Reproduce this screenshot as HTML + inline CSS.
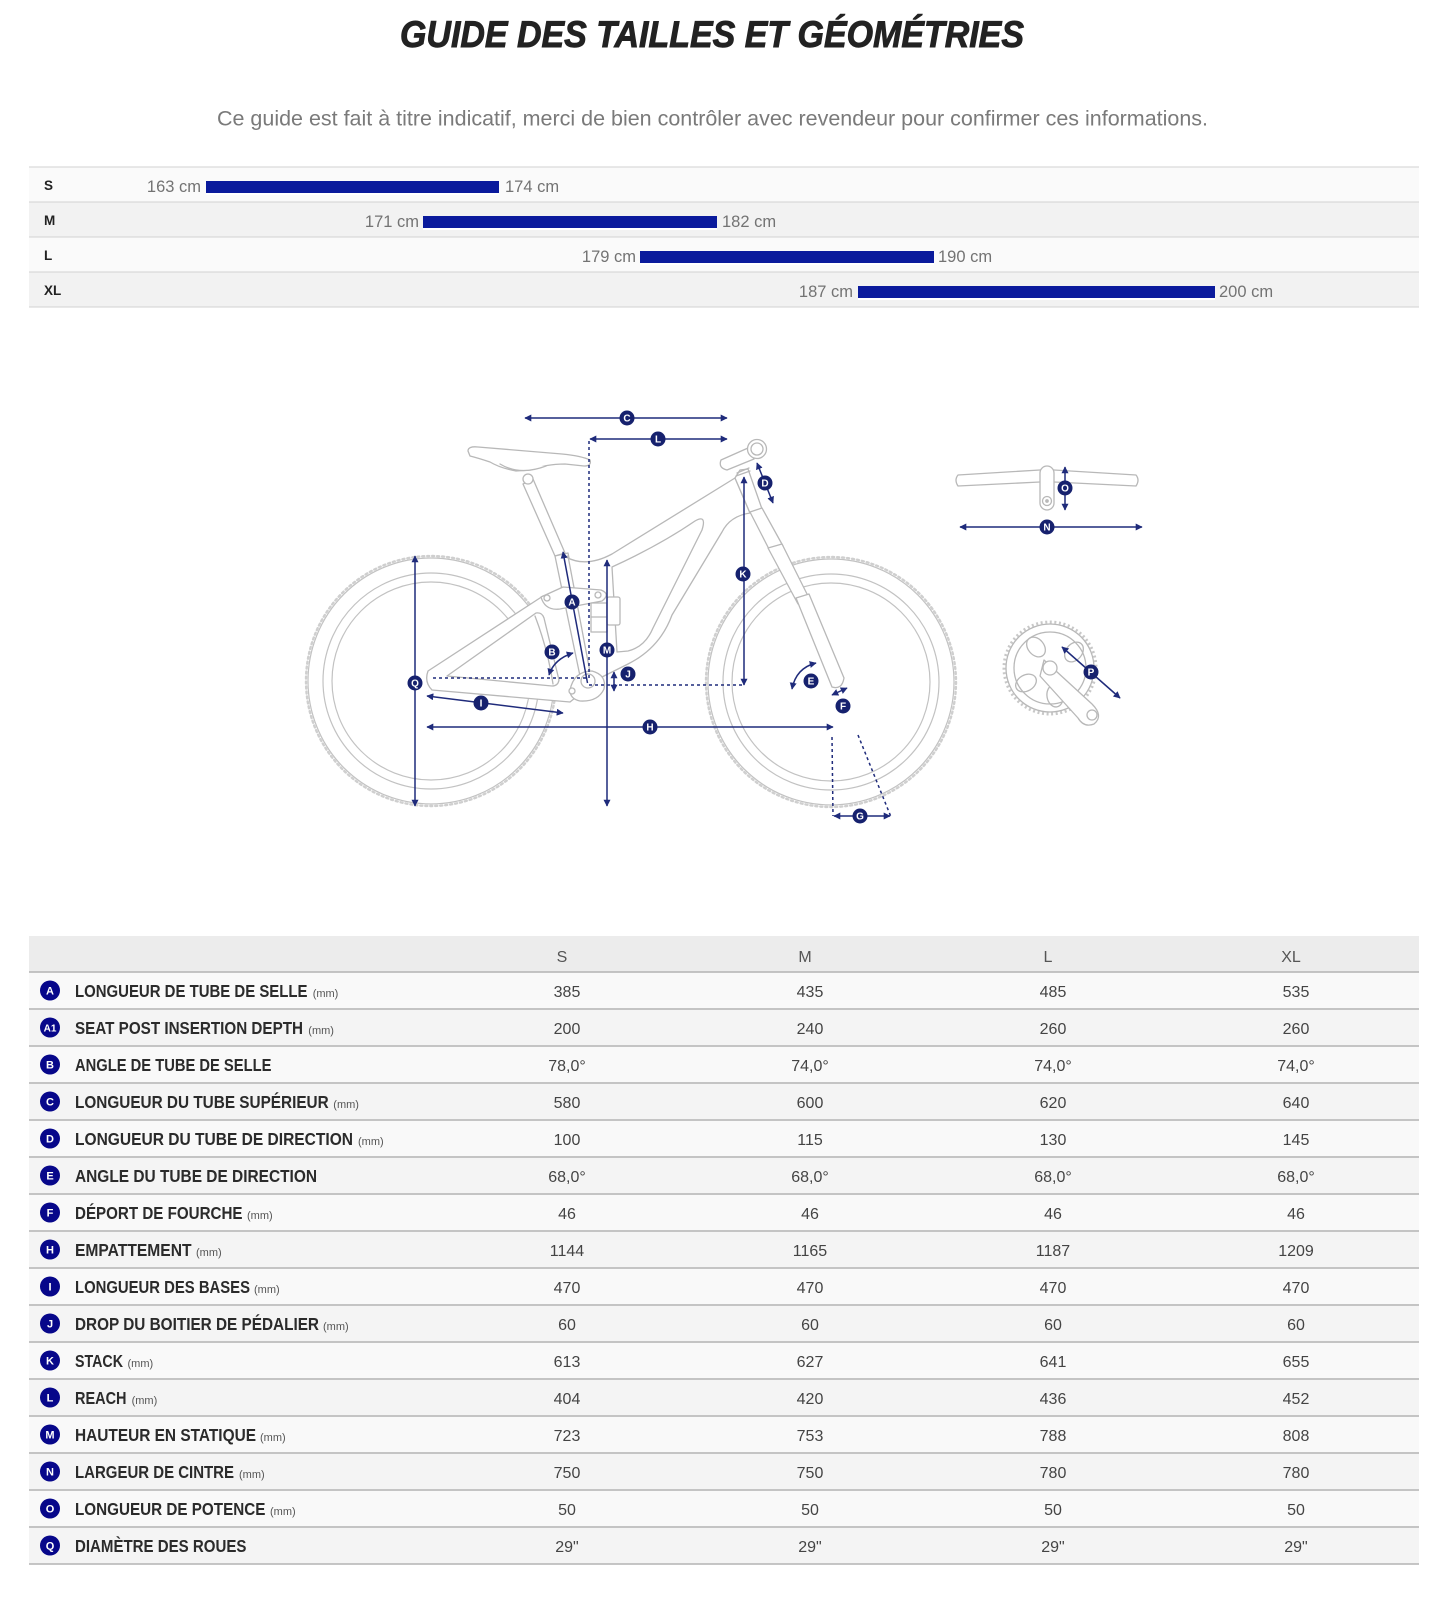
<!DOCTYPE html>
<html>
<head>
<meta charset="utf-8">
<style>
  html,body{margin:0;padding:0;background:#fff;}
  body{width:1450px;height:1600px;overflow:hidden;}
  svg{display:block;}
  text{font-family:"Liberation Sans", Arial, sans-serif;}
</style>
</head>
<body>
<svg width="1450" height="1600" viewBox="0 0 1450 1600" xmlns="http://www.w3.org/2000/svg">
  <defs>
    <marker id="ah" viewBox="0 0 10 10" refX="9" refY="5" markerWidth="7" markerHeight="7" orient="auto-start-reverse" markerUnits="userSpaceOnUse">
      <path d="M0,0 L10,5 L0,10 Z" fill="#1f2b7b"/>
    </marker>
  </defs>

  <!-- Title -->
  <text x="400" y="47" font-size="37" font-weight="bold" font-style="italic" fill="#222" stroke="#222" stroke-width="0.9" textLength="624" lengthAdjust="spacingAndGlyphs">GUIDE DES TAILLES ET GÉOMÉTRIES</text>
  <!-- Subtitle -->
  <text x="217" y="125.5" font-size="21" fill="#7a7a7a" textLength="991" lengthAdjust="spacingAndGlyphs">Ce guide est fait à titre indicatif, merci de bien contrôler avec revendeur pour confirmer ces informations.</text>

  <!-- Size chart -->
  <rect x="29" y="167" width="1390" height="35" fill="#fafafa"/>
  <rect x="29" y="202" width="1390" height="35" fill="#f2f2f2"/>
  <rect x="29" y="237" width="1390" height="35" fill="#fafafa"/>
  <rect x="29" y="272" width="1390" height="35" fill="#f2f2f2"/>
  <g stroke="#d9d9d9" stroke-width="1.2">
    <line x1="29" y1="167" x2="1419" y2="167"/>
    <line x1="29" y1="202" x2="1419" y2="202"/>
    <line x1="29" y1="237" x2="1419" y2="237"/>
    <line x1="29" y1="272" x2="1419" y2="272"/>
    <line x1="29" y1="307" x2="1419" y2="307"/>
  </g>
  <g font-size="13.5" font-weight="bold" fill="#222">
    <text x="44" y="190">S</text>
    <text x="44" y="225">M</text>
    <text x="44" y="260">L</text>
    <text x="44" y="295">XL</text>
  </g>
  <g fill="#ffffff">
    <rect x="206" y="193" width="293" height="2"/>
    <rect x="423" y="228" width="294" height="2"/>
    <rect x="640" y="263" width="294" height="2"/>
    <rect x="858" y="298" width="357" height="2"/>
  </g>
  <g fill="#0a1a9c">
    <rect x="206" y="181" width="293" height="12"/>
    <rect x="423" y="216" width="294" height="12"/>
    <rect x="640" y="251" width="294" height="12"/>
    <rect x="858" y="286" width="357" height="12"/>
  </g>
  <g font-size="16.5" fill="#737373">
    <text x="201" y="192" text-anchor="end">163 cm</text>
    <text x="505" y="192">174 cm</text>
    <text x="419" y="227" text-anchor="end">171 cm</text>
    <text x="722" y="227">182 cm</text>
    <text x="636" y="262" text-anchor="end">179 cm</text>
    <text x="938" y="262">190 cm</text>
    <text x="853" y="297" text-anchor="end">187 cm</text>
    <text x="1219" y="297">200 cm</text>
  </g>

  <!-- ================= Bike drawing ================= -->
  <g fill="none" stroke="#c2c2c2" stroke-width="1.2" stroke-linejoin="round" stroke-linecap="round">
    <!-- Rear wheel -->
    <circle cx="431" cy="681" r="123"/>
    <circle cx="431" cy="681" r="125" stroke-dasharray="2 3" stroke-width="2.4" stroke="#cfcfcf"/>
    <circle cx="431" cy="681" r="108"/>
    <circle cx="431" cy="681" r="99"/>
    <!-- Front wheel -->
    <circle cx="831" cy="682" r="123"/>
    <circle cx="831" cy="682" r="125" stroke-dasharray="2 3" stroke-width="2.4" stroke="#cfcfcf"/>
    <circle cx="831" cy="682" r="108"/>
    <circle cx="831" cy="682" r="99"/>
  </g>
  <g fill="#fff" stroke="#b8b8b8" stroke-width="1.3" stroke-linejoin="round" stroke-linecap="round">
    <!-- rear triangle -->
    <path d="M428,671 L543,596 L566,603 L585,690 L570,702 L432,690 Q424,682 428,671 Z"/>
    <path d="M447,676 L536,613 Q542,612 544,618 L559,680 Q558,686 552,686 Z"/>
    <path d="M535,616 Q548,650 553,684" />
    <!-- seatpost -->
    <path d="M523,484 L555,556 L565,553 L533,479 Z"/>
    <!-- seat tube -->
    <path d="M555,556 L580,676 L592,673 L568,553 Z"/>
    <!-- main frame -->
    <path d="M566,557 Q586,568 612,554 L735,478 L750,513 Q730,516 722,532 L672,615 Q660,648 628,664 L600,678 L590,672 L568,556 Z"/>
    <path d="M612,567 Q660,545 695,521 Q707,514 702,530 L653,628 Q645,647 628,651 L617,652 Z"/>
    <!-- rocker -->
    <path d="M541,597 L563,587 L601,590 Q611,594 602,601 L560,609 Q545,611 541,597 Z"/>
    <circle cx="547" cy="598" r="3"/>
    <circle cx="598" cy="595" r="3"/>
    <circle cx="575" cy="599" r="2.5"/>
    <!-- shock -->
    <rect x="591" y="603" width="16" height="29"/>
    <rect x="607" y="597" width="13" height="28" rx="2"/>
    <line x1="591" y1="617" x2="607" y2="617"/>
    <!-- BB -->
    <path d="M570,690 Q574,671 592,671 Q607,675 604,689 Q598,702 580,701 Q570,699 570,690 Z"/>
    <circle cx="588" cy="681" r="7"/>
    <circle cx="572" cy="691" r="3"/>
    <!-- head tube -->
    <path d="M735,478 L740,470 L748,469 L762,509 L750,513 Z"/>
    <line x1="736" y1="476" x2="750" y2="471"/>
    <line x1="737" y1="473" x2="749" y2="468"/>
    <!-- fork -->
    <path d="M750,512 L762,508 L783,546 L771,553 Z"/>
    <path d="M768,548 L782,544 L810,600 L798,604 Z"/>
    <path d="M796,598 L809,594 L844,678 Q842,690 832,687 Z"/>
    <!-- stem -->
    <path d="M721,460 L748,448 L754,459 L727,470 Q718,468 721,460 Z"/>
    <circle cx="757" cy="449" r="9.5"/>
    <circle cx="757" cy="449" r="6"/>
    <!-- saddle -->
    <path d="M468,451 Q468,446 478,447 L562,454 Q582,456 590,460 Q592,466 584,466 L565,464 Q546,464 531,470 L516,471 Q500,468 490,462 Q478,458 470,456 Z"/>
    <path d="M500,464 Q520,476 546,466"/>
    <circle cx="528" cy="479" r="5"/>
  </g>

  <!-- Handlebar (side view) -->
  <g fill="#fff" stroke="#b8b8b8" stroke-width="1.3" stroke-linejoin="round">
    <path d="M958,475 L1040,470 L1054,470 L1136,475 Q1140,480 1136,486 L1054,482 L1040,482 L958,486 Q954,480 958,475 Z"/>
    <rect x="1040" y="466" width="14" height="44" rx="7"/>
    <circle cx="1047" cy="501" r="4.5"/>
    <circle cx="1047" cy="501" r="1.2" fill="#b8b8b8"/>
  </g>

  <!-- Chainring + crank -->
  <g fill="none" stroke="#b8b8b8" stroke-width="1.3" stroke-linejoin="round">
    <circle cx="1050" cy="668" r="44"/>
    <circle cx="1050" cy="668" r="46" stroke-dasharray="2 2.6" stroke-width="3" stroke="#c8c8c8"/>
    <circle cx="1050" cy="668" r="36"/>
    <ellipse cx="1036" cy="647" rx="8" ry="11" transform="rotate(-40 1036 647)"/>
    <ellipse cx="1074" cy="652" rx="8" ry="11" transform="rotate(40 1074 652)"/>
    <ellipse cx="1026" cy="683" rx="8" ry="11" transform="rotate(60 1026 683)"/>
    <ellipse cx="1055" cy="696" rx="8" ry="11" transform="rotate(-10 1055 696)"/>
    <path d="M1044,660 L1092,704 Q1104,716 1094,724 Q1084,728 1078,718 L1040,676 Z" fill="#fff"/>
    <circle cx="1050" cy="668" r="7" fill="#fff"/>
    <circle cx="1092" cy="715" r="5"/>
  </g>

  <!-- Dimension lines -->
  <g fill="none" stroke="#1f2b7b" stroke-width="1.5">
    <line x1="525" y1="418" x2="727" y2="418" marker-start="url(#ah)" marker-end="url(#ah)"/>
    <line x1="590" y1="439" x2="727" y2="439" marker-start="url(#ah)" marker-end="url(#ah)"/>
    <line x1="589" y1="441" x2="589" y2="680" stroke-dasharray="3 3"/>
    <line x1="587.5" y1="683" x2="563" y2="552" marker-end="url(#ah)"/>
    <path d="M549,675 Q554,659 573,653" marker-start="url(#ah)" marker-end="url(#ah)"/>
    <line x1="415" y1="556" x2="415" y2="806" marker-start="url(#ah)" marker-end="url(#ah)"/>
    <line x1="427" y1="696" x2="563" y2="713" marker-start="url(#ah)" marker-end="url(#ah)"/>
    <line x1="427" y1="727" x2="833" y2="727" marker-start="url(#ah)" marker-end="url(#ah)"/>
    <line x1="607" y1="560" x2="607" y2="806" marker-start="url(#ah)" marker-end="url(#ah)"/>
    <line x1="433" y1="678" x2="589" y2="678" stroke-dasharray="3 3"/>
    <line x1="589" y1="685" x2="744" y2="685" stroke-dasharray="3 3"/>
    <line x1="614" y1="672" x2="614" y2="691" marker-start="url(#ah)" marker-end="url(#ah)"/>
    <line x1="744" y1="477" x2="744" y2="685" marker-start="url(#ah)" marker-end="url(#ah)"/>
    <line x1="757" y1="463" x2="773" y2="503" marker-start="url(#ah)" marker-end="url(#ah)"/>
    <path d="M792,689 Q796,668 816,663" marker-start="url(#ah)" marker-end="url(#ah)"/>
    <line x1="832" y1="695" x2="847" y2="688" marker-start="url(#ah)" marker-end="url(#ah)"/>
    <line x1="832" y1="737" x2="833" y2="816" stroke-dasharray="3 3"/>
    <line x1="858" y1="735" x2="891" y2="817" stroke-dasharray="3 3"/>
    <line x1="834" y1="816" x2="890" y2="816" marker-start="url(#ah)" marker-end="url(#ah)"/>
    <line x1="1065" y1="467" x2="1065" y2="510" marker-start="url(#ah)" marker-end="url(#ah)"/>
    <line x1="960" y1="527" x2="1142" y2="527" marker-start="url(#ah)" marker-end="url(#ah)"/>
    <line x1="1062" y1="647" x2="1120" y2="698" marker-start="url(#ah)" marker-end="url(#ah)"/>
  </g>

  <!-- Diagram badges -->
  <g fill="#16216e">
    <circle cx="627" cy="418" r="7.5"/>
    <circle cx="658" cy="439" r="7.5"/>
    <circle cx="572" cy="602" r="7.5"/>
    <circle cx="552" cy="652" r="7.5"/>
    <circle cx="415" cy="683" r="7.5"/>
    <circle cx="481" cy="703" r="7.5"/>
    <circle cx="650" cy="727" r="7.5"/>
    <circle cx="607" cy="650" r="7.5"/>
    <circle cx="628" cy="674" r="7.5"/>
    <circle cx="743" cy="574" r="7.5"/>
    <circle cx="765" cy="483" r="7.5"/>
    <circle cx="811" cy="681" r="7.5"/>
    <circle cx="843" cy="706" r="7.5"/>
    <circle cx="860" cy="816" r="7.5"/>
    <circle cx="1065" cy="488" r="7.5"/>
    <circle cx="1047" cy="527" r="7.5"/>
    <circle cx="1091" cy="672" r="7.5"/>
  </g>
  <g fill="#fff" font-size="10" font-weight="bold" text-anchor="middle">
    <text x="627" y="421.5">C</text>
    <text x="658" y="442.5">L</text>
    <text x="572" y="605.5">A</text>
    <text x="552" y="655.5">B</text>
    <text x="415" y="686.5">Q</text>
    <text x="481" y="706.5">I</text>
    <text x="650" y="730.5">H</text>
    <text x="607" y="653.5">M</text>
    <text x="628" y="677.5">J</text>
    <text x="743" y="577.5">K</text>
    <text x="765" y="486.5">D</text>
    <text x="811" y="684.5">E</text>
    <text x="843" y="709.5">F</text>
    <text x="860" y="819.5">G</text>
    <text x="1065" y="491.5">O</text>
    <text x="1047" y="530.5">N</text>
    <text x="1091" y="675.5">P</text>
  </g>

  <!-- ================= Geometry table ================= -->
  <rect x="29" y="936" width="1390" height="36" fill="#ececec"/>
  <g>
    <rect x="29" y="972" width="1390" height="37" fill="#f9f9f9"/>
    <rect x="29" y="1009" width="1390" height="37" fill="#f4f4f4"/>
    <rect x="29" y="1046" width="1390" height="37" fill="#f9f9f9"/>
    <rect x="29" y="1083" width="1390" height="37" fill="#f4f4f4"/>
    <rect x="29" y="1120" width="1390" height="37" fill="#f9f9f9"/>
    <rect x="29" y="1157" width="1390" height="37" fill="#f4f4f4"/>
    <rect x="29" y="1194" width="1390" height="37" fill="#f9f9f9"/>
    <rect x="29" y="1231" width="1390" height="37" fill="#f4f4f4"/>
    <rect x="29" y="1268" width="1390" height="37" fill="#f9f9f9"/>
    <rect x="29" y="1305" width="1390" height="37" fill="#f4f4f4"/>
    <rect x="29" y="1342" width="1390" height="37" fill="#f9f9f9"/>
    <rect x="29" y="1379" width="1390" height="37" fill="#f4f4f4"/>
    <rect x="29" y="1416" width="1390" height="37" fill="#f9f9f9"/>
    <rect x="29" y="1453" width="1390" height="37" fill="#f4f4f4"/>
    <rect x="29" y="1490" width="1390" height="37" fill="#f9f9f9"/>
    <rect x="29" y="1527" width="1390" height="37" fill="#f4f4f4"/>
  </g>
  <g stroke="#b3b3b3" stroke-width="1.5">
    <line x1="29" y1="972" x2="1419" y2="972"/>
    <line x1="29" y1="1009" x2="1419" y2="1009"/>
    <line x1="29" y1="1046" x2="1419" y2="1046"/>
    <line x1="29" y1="1083" x2="1419" y2="1083"/>
    <line x1="29" y1="1120" x2="1419" y2="1120"/>
    <line x1="29" y1="1157" x2="1419" y2="1157"/>
    <line x1="29" y1="1194" x2="1419" y2="1194"/>
    <line x1="29" y1="1231" x2="1419" y2="1231"/>
    <line x1="29" y1="1268" x2="1419" y2="1268"/>
    <line x1="29" y1="1305" x2="1419" y2="1305"/>
    <line x1="29" y1="1342" x2="1419" y2="1342"/>
    <line x1="29" y1="1379" x2="1419" y2="1379"/>
    <line x1="29" y1="1416" x2="1419" y2="1416"/>
    <line x1="29" y1="1453" x2="1419" y2="1453"/>
    <line x1="29" y1="1490" x2="1419" y2="1490"/>
    <line x1="29" y1="1527" x2="1419" y2="1527"/>
    <line x1="29" y1="1564" x2="1419" y2="1564"/>
  </g>

  <!-- header -->
  <g font-size="16" fill="#555" text-anchor="middle">
    <text x="562" y="962">S</text>
    <text x="805" y="962">M</text>
    <text x="1048" y="962">L</text>
    <text x="1291" y="962">XL</text>
  </g>

  <!-- badges -->
  <g fill="#07078a">
    <circle cx="50" cy="990.5" r="10"/>
    <circle cx="50" cy="1027.5" r="10"/>
    <circle cx="50" cy="1064.5" r="10"/>
    <circle cx="50" cy="1101.5" r="10"/>
    <circle cx="50" cy="1138.5" r="10"/>
    <circle cx="50" cy="1175.5" r="10"/>
    <circle cx="50" cy="1212.5" r="10"/>
    <circle cx="50" cy="1249.5" r="10"/>
    <circle cx="50" cy="1286.5" r="10"/>
    <circle cx="50" cy="1323.5" r="10"/>
    <circle cx="50" cy="1360.5" r="10"/>
    <circle cx="50" cy="1397.5" r="10"/>
    <circle cx="50" cy="1434.5" r="10"/>
    <circle cx="50" cy="1471.5" r="10"/>
    <circle cx="50" cy="1508.5" r="10"/>
    <circle cx="50" cy="1545.5" r="10"/>
  </g>
  <g fill="#fff" font-size="11" font-weight="bold" text-anchor="middle">
    <text x="50" y="994.5">A</text>
    <text x="50" y="1031.5" font-size="10">A1</text>
    <text x="50" y="1068.5">B</text>
    <text x="50" y="1105.5">C</text>
    <text x="50" y="1142.5">D</text>
    <text x="50" y="1179.5">E</text>
    <text x="50" y="1216.5">F</text>
    <text x="50" y="1253.5">H</text>
    <text x="50" y="1290.5">I</text>
    <text x="50" y="1327.5">J</text>
    <text x="50" y="1364.5">K</text>
    <text x="50" y="1401.5">L</text>
    <text x="50" y="1438.5">M</text>
    <text x="50" y="1475.5">N</text>
    <text x="50" y="1512.5">O</text>
    <text x="50" y="1549.5">Q</text>
  </g>

  <!-- labels -->
  <g font-size="17.5" font-weight="bold" fill="#2b2b2b">
    <text x="75" y="997" textLength="232.5" lengthAdjust="spacingAndGlyphs">LONGUEUR DE TUBE DE SELLE</text>
    <text x="75" y="1034" textLength="228" lengthAdjust="spacingAndGlyphs">SEAT POST INSERTION DEPTH</text>
    <text x="75" y="1071" textLength="196.4" lengthAdjust="spacingAndGlyphs">ANGLE DE TUBE DE SELLE</text>
    <text x="75" y="1108" textLength="253.7" lengthAdjust="spacingAndGlyphs">LONGUEUR DU TUBE SUPÉRIEUR</text>
    <text x="75" y="1145" textLength="278" lengthAdjust="spacingAndGlyphs">LONGUEUR DU TUBE DE DIRECTION</text>
    <text x="75" y="1182" textLength="242" lengthAdjust="spacingAndGlyphs">ANGLE DU TUBE DE DIRECTION</text>
    <text x="75" y="1219" textLength="167.5" lengthAdjust="spacingAndGlyphs">DÉPORT DE FOURCHE</text>
    <text x="75" y="1256" textLength="116.5" lengthAdjust="spacingAndGlyphs">EMPATTEMENT</text>
    <text x="75" y="1293" textLength="175" lengthAdjust="spacingAndGlyphs">LONGUEUR DES BASES</text>
    <text x="75" y="1330" textLength="244" lengthAdjust="spacingAndGlyphs">DROP DU BOITIER DE PÉDALIER</text>
    <text x="75" y="1367" textLength="48" lengthAdjust="spacingAndGlyphs">STACK</text>
    <text x="75" y="1404" textLength="51.5" lengthAdjust="spacingAndGlyphs">REACH</text>
    <text x="75" y="1441" textLength="181" lengthAdjust="spacingAndGlyphs">HAUTEUR EN STATIQUE</text>
    <text x="75" y="1478" textLength="159" lengthAdjust="spacingAndGlyphs">LARGEUR DE CINTRE</text>
    <text x="75" y="1515" textLength="190.4" lengthAdjust="spacingAndGlyphs">LONGUEUR DE POTENCE</text>
    <text x="75" y="1552" textLength="171.4" lengthAdjust="spacingAndGlyphs">DIAMÈTRE DES ROUES</text>
  </g>
  <g font-size="11" fill="#555">
    <text x="312.7" y="997">(mm)</text>
    <text x="308.3" y="1034">(mm)</text>
    <text x="333.3" y="1108">(mm)</text>
    <text x="358" y="1145">(mm)</text>
    <text x="247" y="1219">(mm)</text>
    <text x="196" y="1256">(mm)</text>
    <text x="254" y="1293">(mm)</text>
    <text x="323" y="1330">(mm)</text>
    <text x="127.5" y="1367">(mm)</text>
    <text x="131.6" y="1404">(mm)</text>
    <text x="260" y="1441">(mm)</text>
    <text x="239" y="1478">(mm)</text>
    <text x="270" y="1515">(mm)</text>
  </g>

  <!-- values -->
  <g font-size="16" fill="#444" text-anchor="middle">
    <text x="567" y="997">385</text><text x="810" y="997">435</text><text x="1053" y="997">485</text><text x="1296" y="997">535</text>
    <text x="567" y="1034">200</text><text x="810" y="1034">240</text><text x="1053" y="1034">260</text><text x="1296" y="1034">260</text>
    <text x="567" y="1071">78,0°</text><text x="810" y="1071">74,0°</text><text x="1053" y="1071">74,0°</text><text x="1296" y="1071">74,0°</text>
    <text x="567" y="1108">580</text><text x="810" y="1108">600</text><text x="1053" y="1108">620</text><text x="1296" y="1108">640</text>
    <text x="567" y="1145">100</text><text x="810" y="1145">115</text><text x="1053" y="1145">130</text><text x="1296" y="1145">145</text>
    <text x="567" y="1182">68,0°</text><text x="810" y="1182">68,0°</text><text x="1053" y="1182">68,0°</text><text x="1296" y="1182">68,0°</text>
    <text x="567" y="1219">46</text><text x="810" y="1219">46</text><text x="1053" y="1219">46</text><text x="1296" y="1219">46</text>
    <text x="567" y="1256">1144</text><text x="810" y="1256">1165</text><text x="1053" y="1256">1187</text><text x="1296" y="1256">1209</text>
    <text x="567" y="1293">470</text><text x="810" y="1293">470</text><text x="1053" y="1293">470</text><text x="1296" y="1293">470</text>
    <text x="567" y="1330">60</text><text x="810" y="1330">60</text><text x="1053" y="1330">60</text><text x="1296" y="1330">60</text>
    <text x="567" y="1367">613</text><text x="810" y="1367">627</text><text x="1053" y="1367">641</text><text x="1296" y="1367">655</text>
    <text x="567" y="1404">404</text><text x="810" y="1404">420</text><text x="1053" y="1404">436</text><text x="1296" y="1404">452</text>
    <text x="567" y="1441">723</text><text x="810" y="1441">753</text><text x="1053" y="1441">788</text><text x="1296" y="1441">808</text>
    <text x="567" y="1478">750</text><text x="810" y="1478">750</text><text x="1053" y="1478">780</text><text x="1296" y="1478">780</text>
    <text x="567" y="1515">50</text><text x="810" y="1515">50</text><text x="1053" y="1515">50</text><text x="1296" y="1515">50</text>
    <text x="567" y="1552">29"</text><text x="810" y="1552">29"</text><text x="1053" y="1552">29"</text><text x="1296" y="1552">29"</text>
  </g>
</svg>
</body>
</html>
